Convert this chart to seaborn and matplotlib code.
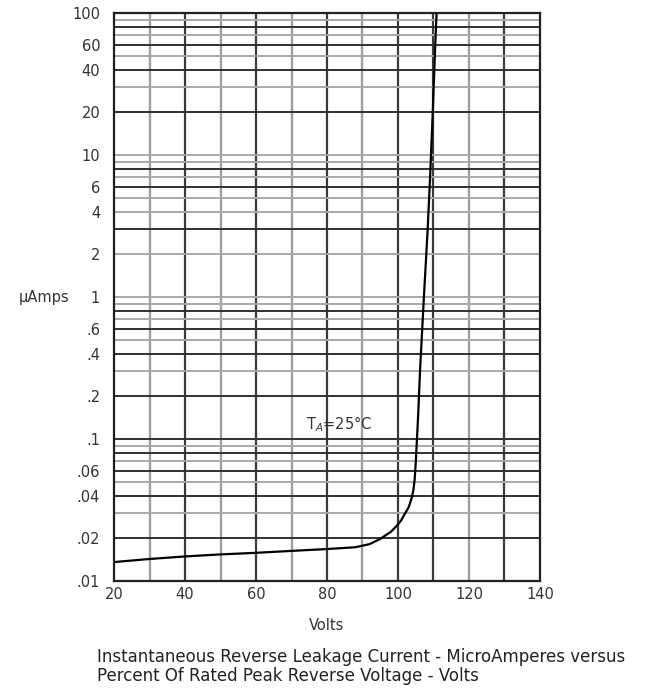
"""
reverse leakage current vs percent of rated peak reverse voltage
"""

import numpy as np
import pandas as pd
import seaborn as sns
import matplotlib.pyplot as plt

# curve
volts = [20, 30, 40, 50, 60, 70, 80, 88, 92, 95, 96.5, 98, 100, 101, 102,
         103, 103.8, 104.3, 104.7, 105.0, 105.3, 105.7, 106.2, 107.3,
         108.3, 109, 109.8, 110.5, 111]
micro_amps = [0.0136, 0.0143, 0.0149, 0.0154, 0.0158, 0.0163, 0.0168,
              0.0173, 0.0182, 0.0198, 0.021, 0.0222, 0.025, 0.027, 0.030,
              0.033, 0.038, 0.043, 0.052, 0.068, 0.095, 0.15, 0.3, 1.0,
              2.8, 6.6, 20, 60, 120]

x_ticks = [20, 40, 60, 80, 100, 120, 140]
y_ticks = [0.01, 0.02, 0.04, 0.06, 0.1, 0.2, 0.4, 0.6, 1, 2, 4, 6,
           10, 20, 40, 60, 100]
y_labels = [".01", ".02", ".04", ".06", ".1", ".2", ".4", ".6", "1", "2",
            "4", "6", "10", "20", "40", "60", "100"]

# graph paper lines
grid_x_dark = [40, 60, 80, 100, 110, 130]
grid_x_light = [30, 50, 70, 90, 120]
grid_y_dark = [0.02, 0.04, 0.06, 0.08, 0.1, 0.2, 0.4, 0.6, 0.8,
               3, 6, 8, 20, 40, 60, 80]
grid_y_light = [0.03, 0.05, 0.07, 0.09, 0.3, 0.5, 0.7, 0.9, 1,
                2, 4, 5, 7, 9, 10, 30, 50, 70, 90]

df = pd.DataFrame({"volts": volts, "uA": micro_amps})

sns.set_style("white")
plt.rcParams["font.family"] = ["DejaVu Sans"]

fig = plt.figure(figsize=(6.49, 6.89), dpi=100)
ax = fig.add_axes([0.1757, 0.1567, 0.6563, 0.8244])
ax.set_yscale("log")

for v in grid_x_light:
    ax.axvline(v, color="#a0a0a0", lw=1.7, zorder=1)
for v in grid_x_dark:
    ax.axvline(v, color="#3a3a3a", lw=1.6, zorder=1)
for v in grid_y_light:
    ax.axhline(v, color="#a8a8a8", lw=1.4, zorder=1)
for v in grid_y_dark:
    ax.axhline(v, color="#303030", lw=1.4, zorder=1)

sns.lineplot(data=df, x="volts", y="uA", ax=ax, color="black", lw=1.6,
             zorder=3, sort=False)

ax.set_xlim(20, 140)
ax.set_ylim(0.01, 100)
ax.set_xticks(x_ticks)
ax.set_xticklabels([str(t) for t in x_ticks])
ax.set_yticks(y_ticks)
ax.set_yticklabels(y_labels)
ax.minorticks_off()
ax.tick_params(length=0, labelsize=10.5, colors="#333333")
ax.tick_params(axis="y", pad=10)
ax.tick_params(axis="x", pad=4)
for s in ax.spines.values():
    s.set_color("#202020")
    s.set_linewidth(1.6)

ax.set_xlabel("Volts", fontsize=10.5, color="#333333", labelpad=12)
ax.set_ylabel("\u00b5Amps", fontsize=10.5, color="#333333", rotation=0,
              labelpad=20, va="center")
ax.text(74, 0.128, "T$_A$=25\u00b0C", fontsize=10.5, color="#333333",
        va="center", zorder=4)

fig.text(0.149, 0.046,
         "Instantaneous Reverse Leakage Current - MicroAmperes versus",
         fontsize=12, color="#222222", va="center")
fig.text(0.149, 0.019, "Percent Of Rated Peak Reverse Voltage - Volts",
         fontsize=12, color="#222222", va="center")

fig.savefig("out.png", dpi=100)
